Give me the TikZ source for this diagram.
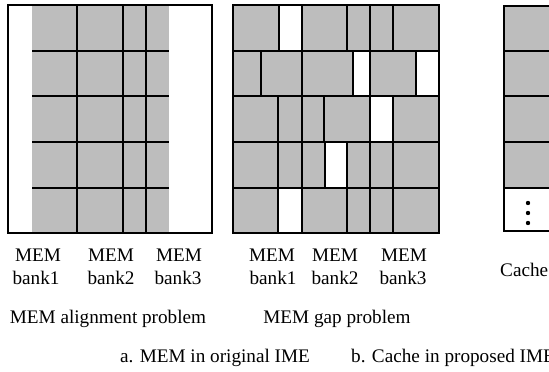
\documentclass[tikz,border=0pt]{standalone}
\usepackage{fontspec}
\setmainfont{Liberation Serif}
\begin{document}
\begin{tikzpicture}[x=1pt,y=-1pt,
  cellfill/.style={fill=black!26},
  gapfill/.style={fill=white},
  frame/.style={line width=2.6pt},
  bankline/.style={line width=2.6pt},
  rowline/.style={line width=1.8pt},
  splitline/.style={line width=1.4pt},
  lbl/.style={anchor=base, inner sep=0pt, font=\fontsize{19.2}{22}\selectfont}]
\useasboundingbox (0,0) rectangle (549,372);
\clip (0,0) rectangle (549,372);

% ---- MEM alignment problem: three banks, data block shifted ----
\fill[cellfill] (32,5) rectangle (169,233);
\foreach \y in {51,96,142,188} \draw[rowline] (32,\y) -- (169,\y);
\draw[splitline] (123,5) -- (123,233);
\draw[bankline] (77,5) -- (77,233) (146,5) -- (146,233);
\draw[frame] (8,5) rectangle (212,233);

% ---- MEM gap problem: blocks of uneven width leave holes ----
\fill[cellfill] (233,5) rectangle (439,233);
\fill[gapfill] (279,5) rectangle (302,51);
\fill[gapfill] (353,51) rectangle (370,96);
\fill[gapfill] (416,51) rectangle (439,96);
\fill[gapfill] (370,96) rectangle (393,142);
\fill[gapfill] (325,142) rectangle (347,188);
\fill[gapfill] (278,188) rectangle (302,233);
% block borders inside each row
\draw[splitline] (279,5) -- (279,51) (347,5) -- (347,51) (393,5) -- (393,51);
\draw[splitline] (261,51) -- (261,96) (353,51) -- (353,96) (416,51) -- (416,96);
\draw[splitline] (278,96) -- (278,142) (324,96) -- (324,142) (393,96) -- (393,142);
\draw[splitline] (278,142) -- (278,188) (325,142) -- (325,188) (347,142) -- (347,188) (393,142) -- (393,188);
\draw[splitline] (278,188) -- (278,233) (347,188) -- (347,233) (393,188) -- (393,233);
\foreach \y in {51,96,142,188} \draw[rowline] (233,\y) -- (439,\y);
\draw[bankline] (302,5) -- (302,233) (370,5) -- (370,233);
\draw[frame] (233,5) rectangle (439,233);

% ---- Cache column ----
\fill[cellfill] (504,6) rectangle (575,188);
\foreach \y in {51,96,142,188} \draw[rowline] (504,\y) -- (575,\y);
\draw[frame] (504,6) rectangle (575,231);
\foreach \y in {203,213,223} \fill (528,\y) circle (2.2);

% ---- labels ----
\node[lbl] (m1) at (38,261) {MEM};
\node[lbl] (b1) at (36,284) {bank1};
\node[lbl] (m2) at (111,261) {MEM};
\node[lbl] (b2) at (111,284) {bank2};
\node[lbl] (m3) at (179,261) {MEM};
\node[lbl] (b3) at (178,284) {bank3};
\node[lbl] (m4) at (272,261) {MEM};
\node[lbl] (b4) at (273,284) {bank1};
\node[lbl] (m5) at (335,261) {MEM};
\node[lbl] (b5) at (335,284) {bank2};
\node[lbl] (m6) at (404,261) {MEM};
\node[lbl] (b6) at (403,284) {bank3};
\node[lbl, anchor=base west] (cache) at (500,276) {Cache};
\node[lbl] (align) at (108,323) {MEM alignment problem};
\node[lbl] (gap) at (337,323) {MEM gap problem};
\node[lbl] (capa) at (215,362) {a. MEM in original IME};
\node[lbl, anchor=base west] (capb) at (351,362) {b. Cache in proposed IME};
\end{tikzpicture}
\end{document}
